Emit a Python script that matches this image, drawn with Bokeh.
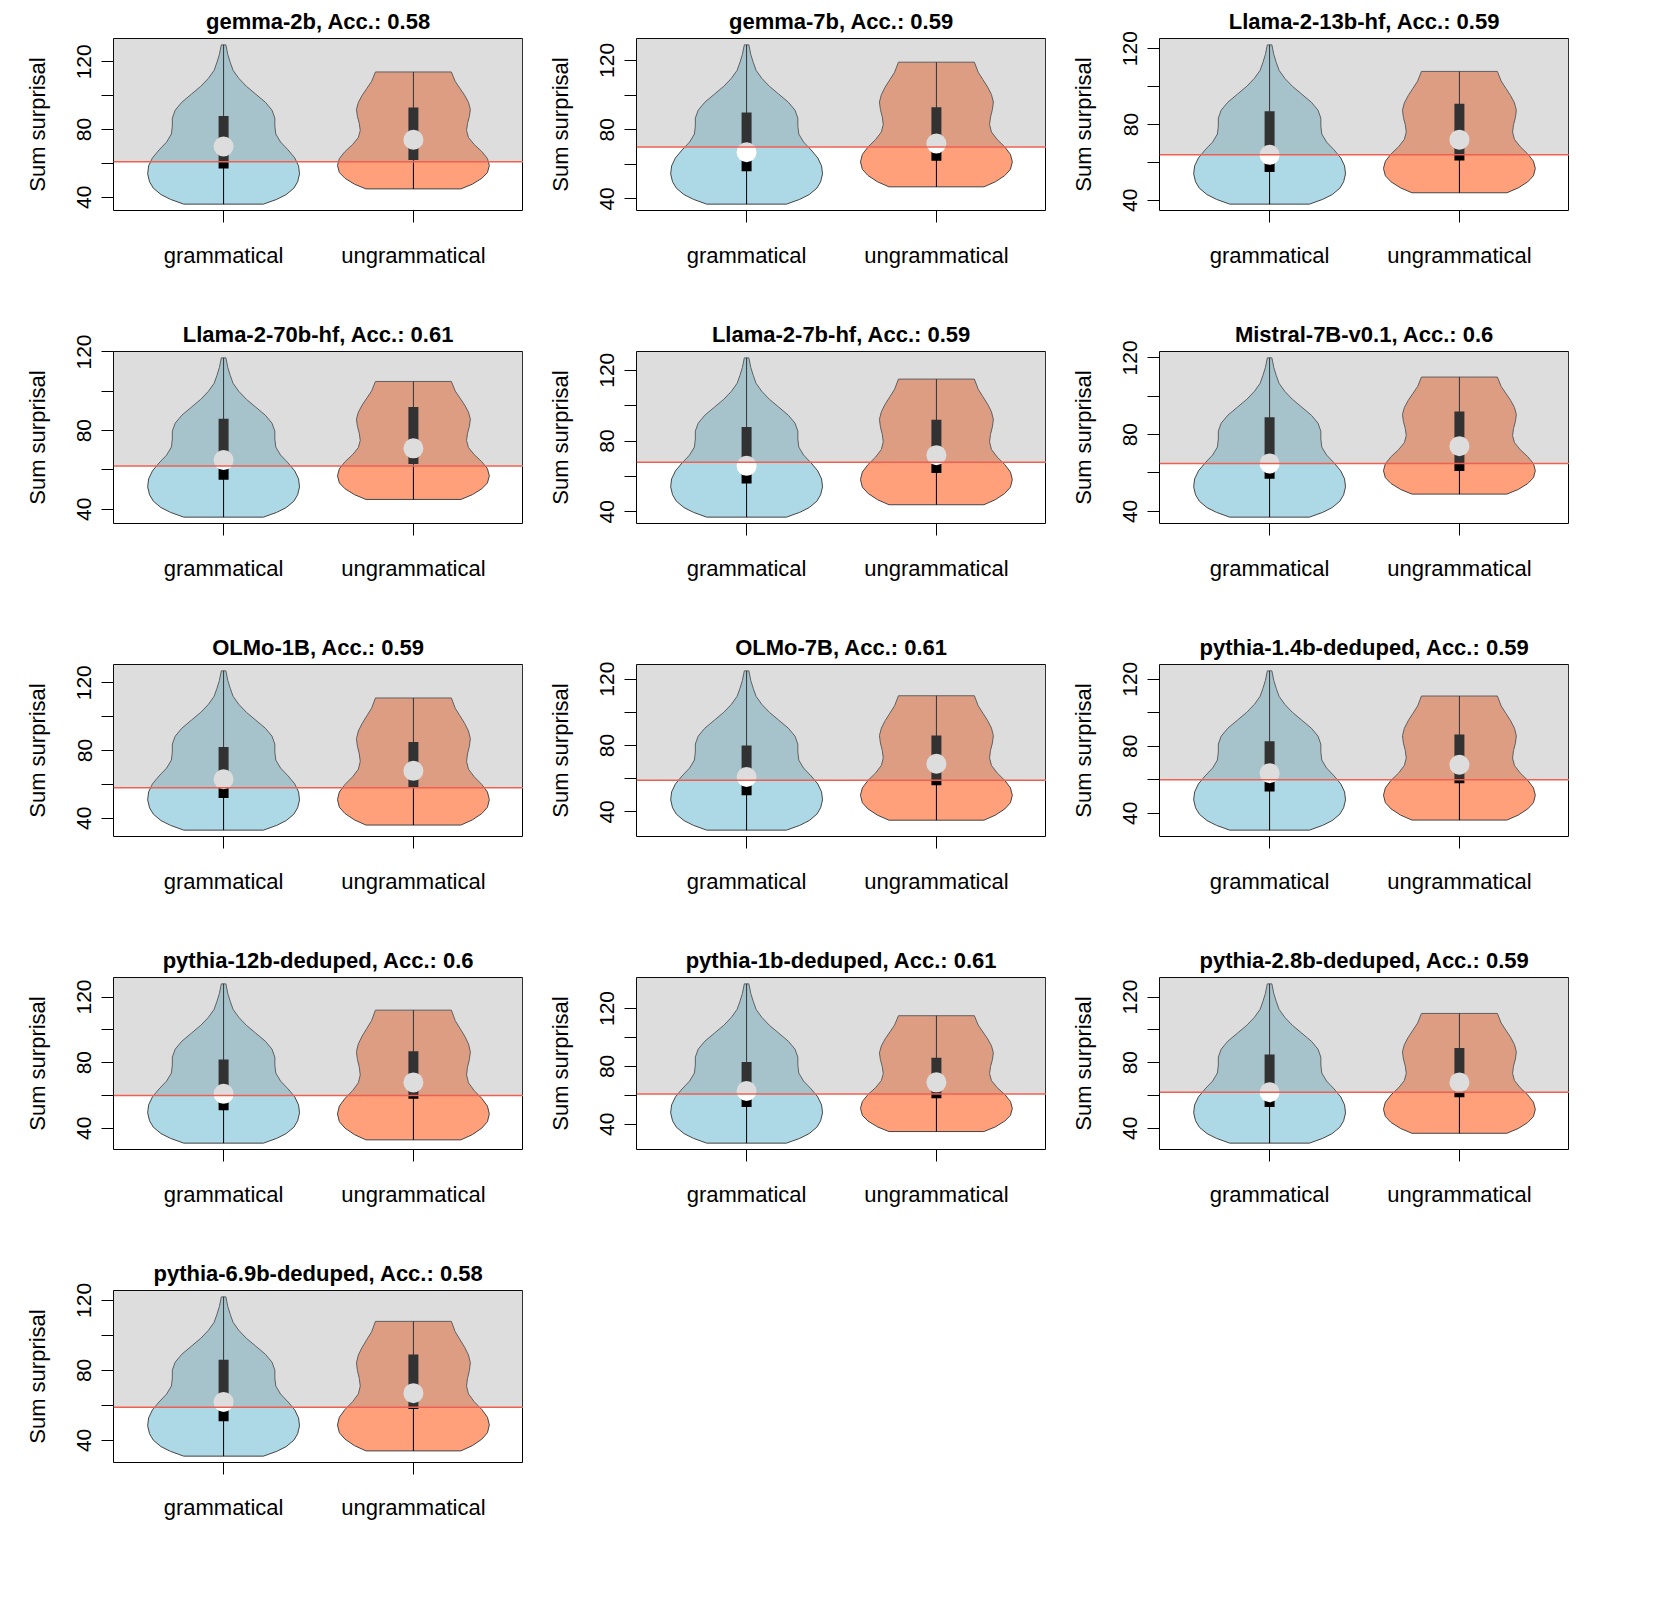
from bokeh.plotting import figure
from bokeh.layouts import gridplot
from bokeh.models import BoxAnnotation, Span, FixedTicker
from bokeh.embed import file_html
from bokeh.resources import INLINE

models = ["gemma-2b", "gemma-7b", "Llama-2-13b-hf", "Llama-2-70b-hf", "Llama-2-7b-hf",
          "Mistral-7B-v0.1", "OLMo-1B", "OLMo-7B", "pythia-1.4b-deduped",
          "pythia-12b-deduped", "pythia-1b-deduped", "pythia-2.8b-deduped", "pythia-6.9b-deduped"]
acc = ["0.58", "0.59", "0.59", "0.61", "0.59", "0.6", "0.59", "0.61", "0.59", "0.6", "0.61", "0.59", "0.58"]
threshold = [61, 70, 64, 62, 68, 65, 58, 59, 60, 60, 61, 62, 59]
# grammatical: min, q1, median, q3, max
g_min = [36, 37, 38, 36, 37, 37, 33, 29, 30, 31, 27, 31, 31]
g_q1 = [57, 56, 55, 55, 56, 57, 52, 50, 53, 51, 52, 53, 51]
g_med = [70, 67, 64, 65, 66, 65, 63, 61, 64, 61, 63, 62, 62]
g_q3 = [88, 90, 87, 86, 88, 89, 82, 80, 83, 82, 83, 85, 86]
g_max = [130, 129, 122, 117, 127, 120, 127, 125, 125, 128, 137, 128, 122]
# ungrammatical
u_min = [45, 47, 44, 45, 44, 49, 36, 35, 36, 33, 35, 37, 34]
u_q1 = [62, 62, 61, 63, 62, 61, 58, 56, 58, 58, 58, 59, 58]
u_med = [74, 72, 72, 71, 72, 74, 68, 69, 69, 68, 69, 68, 67]
u_q3 = [93, 93, 91, 92, 92, 92, 85, 86, 87, 87, 86, 89, 89]
u_max = [114, 119, 108, 105, 115, 110, 111, 110, 110, 112, 115, 110, 108]

# violin half-width profiles (relative height 0..1 from min to max)
g_t = [0, 0.03, 0.06, 0.10, 0.14, 0.19, 0.24, 0.29, 0.34, 0.39, 0.44, 0.49, 0.54, 0.59,
       0.64, 0.69, 0.74, 0.79, 0.84, 0.89, 0.94, 1.0]
g_w = [0.21, 0.28, 0.33, 0.37, 0.39, 0.40, 0.395, 0.375, 0.34, 0.30, 0.275, 0.27, 0.27, 0.255,
       0.22, 0.17, 0.12, 0.08, 0.05, 0.035, 0.022, 0.012]
u_t = [0, 0.04, 0.09, 0.14, 0.20, 0.26, 0.32, 0.38, 0.44, 0.50, 0.56, 0.62, 0.68, 0.74,
       0.80, 0.86, 0.92, 1.0]
u_w = [0.25, 0.31, 0.36, 0.39, 0.40, 0.39, 0.36, 0.32, 0.29, 0.28, 0.285, 0.295, 0.30, 0.29,
       0.27, 0.245, 0.22, 0.20]

FONT = "Liberation Sans"
figs = []
for i, m in enumerate(models):
    lo = min(g_min[i], u_min[i]); hi = max(g_max[i], u_max[i])
    pad = (hi - lo) * 0.04
    p = figure(width=523, height=313, x_range=(0.42, 2.58), y_range=(lo - pad, hi + pad),
               output_backend="svg", toolbar_location=None,
               min_border_left=113, min_border_right=0, min_border_top=38, min_border_bottom=103,
               title=f"{m}, Acc.: {acc[i]}")
    p.title.align = "center"
    p.title.text_font = FONT
    p.title.text_font_size = "22px"
    p.title.text_font_style = "bold"
    p.title.text_color = "black"
    p.grid.visible = False
    p.outline_line_color = "black"
    p.outline_line_width = 1
    for c, col, tt, ww, mn, mx, q1, md, q3 in [
        (1, "#ADD8E6", g_t, g_w, g_min[i], g_max[i], g_q1[i], g_med[i], g_q3[i]),
        (2, "#FFA07A", u_t, u_w, u_min[i], u_max[i], u_q1[i], u_med[i], u_q3[i])]:
        ys = [mn + t * (mx - mn) for t in tt]
        xs = [c - w for w in ww] + [c + w for w in ww[::-1]]
        p.patch(xs, ys + ys[::-1], fill_color=col, line_color="#444444", line_width=1)
        p.segment([c], [mn], [c], [mx], line_color="black", line_width=1)
        p.segment([c], [q1], [c], [q3], line_color="black", line_width=10)
        p.scatter([c], [md], size=20, fill_color="white", line_color=None)
    p.add_layout(BoxAnnotation(bottom=threshold[i], fill_color="#999999", fill_alpha=0.33, line_color=None))
    p.add_layout(Span(location=threshold[i], dimension="width", line_color="#F06050", line_width=1.5))
    p.xaxis.ticker = FixedTicker(ticks=[1, 2])
    p.xaxis.major_label_overrides = {1: "grammatical", 2: "ungrammatical"}
    p.xaxis.minor_tick_line_color = None
    p.xaxis.axis_line_color = None
    p.xaxis.major_tick_out = 12
    p.xaxis.major_tick_in = 0
    p.xaxis.major_label_standoff = 20
    p.xaxis.major_label_text_font = FONT
    p.xaxis.major_label_text_font_size = "22px"
    p.xaxis.major_label_text_color = "black"
    p.yaxis.ticker = FixedTicker(ticks=[40, 60, 80, 100, 120])
    p.yaxis.major_label_overrides = {60: "", 100: ""}
    p.yaxis.minor_tick_line_color = None
    p.yaxis.axis_line_color = None
    p.yaxis.major_tick_out = 12
    p.yaxis.major_tick_in = 0
    p.yaxis.major_label_orientation = "vertical"
    p.yaxis.major_label_standoff = 10
    p.yaxis.major_label_text_font = FONT
    p.yaxis.major_label_text_font_size = "21px"
    p.yaxis.major_label_text_color = "black"
    p.yaxis.axis_label = "Sum surprisal"
    p.yaxis.axis_label_text_font = FONT
    p.yaxis.axis_label_text_font_size = "22px"
    p.yaxis.axis_label_text_font_style = "normal"
    p.yaxis.axis_label_text_color = "black"
    p.yaxis.axis_label_standoff = 25
    figs.append(p)

grid = gridplot(figs, ncols=3, toolbar_location=None)
open("out.html", "w").write(file_html(grid, INLINE))
